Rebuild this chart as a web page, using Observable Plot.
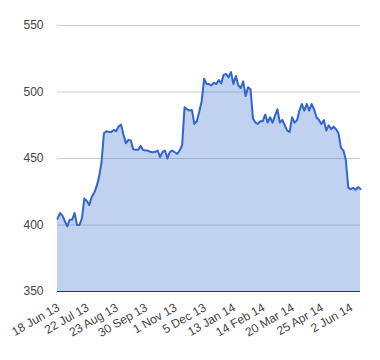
<!DOCTYPE html>
<html>
<head>
<meta charset="utf-8">
<script src="https://cdn.jsdelivr.net/npm/d3@7"></script>
<script src="https://cdn.jsdelivr.net/npm/@observablehq/plot@0.6"></script>
<style>
  html, body { margin: 0; padding: 0; background: #fff; }
</style>
</head>
<body>
<div id="chart"></div>
<script>
// Price series (evenly spaced observations, one every ~2 trading days)
const values = [
  404.7, 409, 407, 403, 399, 404, 404, 409, 400, 400,
  405, 420, 418, 415, 421, 424, 429, 436, 447, 469,
  470.5, 470, 470, 471.5, 470.5, 474, 475.5, 468, 461.5, 464,
  463.5, 457, 456.5, 456.5, 459.5, 456.5, 456, 456, 455, 454.7,
  455, 456, 451, 455, 456, 450, 455, 456, 454.7, 453.5,
  456, 460, 488.6, 487, 486, 486.5, 476, 478, 485, 493,
  510, 506, 506, 505, 507, 506, 509, 506.5, 513, 513.5,
  511, 515, 506, 512, 505, 503, 508, 497, 503.6, 502,
  480, 477, 476, 478, 478, 483, 477, 481, 477, 482,
  487, 477, 479, 475, 471, 470, 481, 477, 478.5, 486,
  491, 486, 491, 486, 491, 487, 481, 479, 476, 479,
  471, 475, 472, 474, 472, 469, 458, 456, 449, 428,
  427, 428, 426.5, 428.5, 427
];
const tickLabels = [
  "18 Jun 13", "22 Jul 13", "23 Aug 13", "30 Sep 13", "1 Nov 13", "5 Dec 13",
  "13 Jan 14", "14 Feb 14", "20 Mar 14", "25 Apr 14", "2 Jun 14"
];
const tickEvery = 12;
const yTicks = [350, 400, 450, 500, 550];

const data = values.map((v, i) => ({i, v}));
const xTicks = tickLabels.map((_, k) => k * tickEvery);

const chart = Plot.plot({
  width: 380,
  height: 360,
  marginLeft: 57,
  marginRight: 20,
  marginTop: 25,
  marginBottom: 69,
  style: {fontFamily: "'Liberation Sans', Arial, sans-serif", fontSize: "12px", color: "#444", background: "#fff"},
  x: {domain: [0, values.length - 1]},
  y: {domain: [350, 550]},
  marks: [
    Plot.gridY(yTicks.slice(1), {stroke: "#cccccc", strokeOpacity: 1}),
    Plot.areaY(data, {x: "i", y1: 350, y2: "v", fill: "#3366cc", fillOpacity: 0.3}),
    Plot.lineY(data, {x: "i", y: "v", stroke: "#3366cc", strokeWidth: 2}),
    Plot.ruleY([350], {stroke: "#333"}),
    Plot.axisY({ticks: yTicks, tickSize: 0, tickPadding: 14, label: null, fill: "#444"}),
    Plot.axisX({ticks: xTicks, tickFormat: d => tickLabels[d / tickEvery], tickRotate: -30, tickSize: 0, tickPadding: 15, dx: 1, label: null, fill: "#444"})
  ]
});
document.getElementById("chart").appendChild(chart);
</script>
</body>
</html>
